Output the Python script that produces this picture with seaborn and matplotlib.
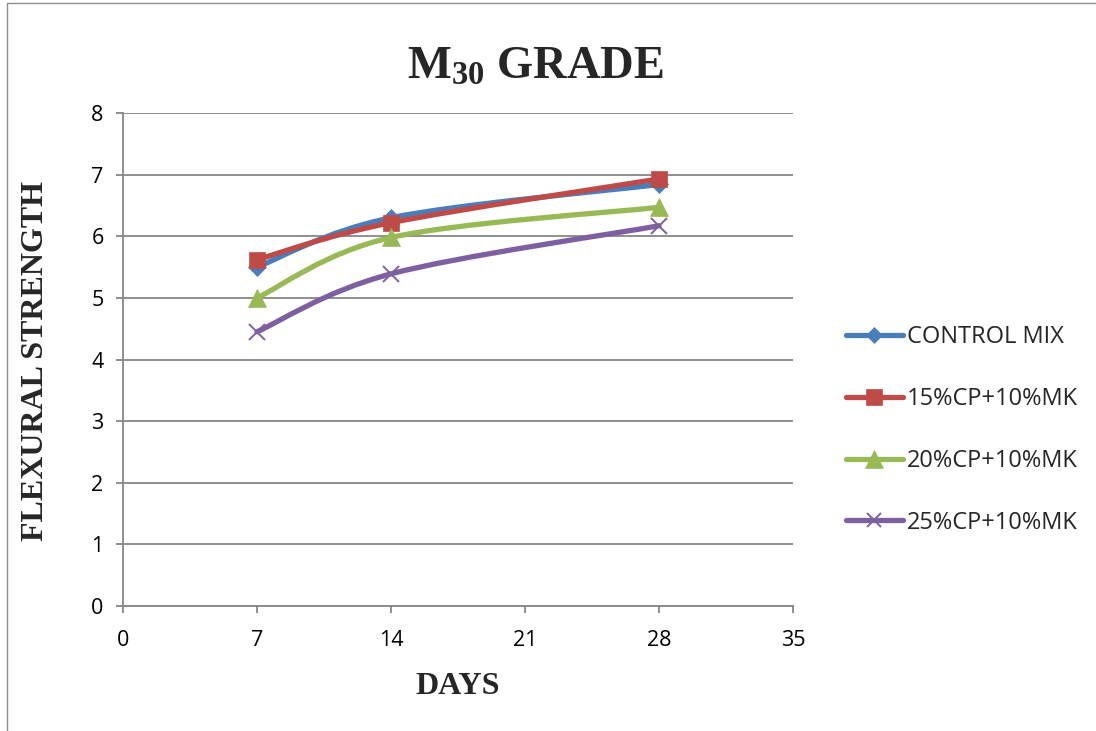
import matplotlib
matplotlib.use("Agg")
import matplotlib.pyplot as plt
from matplotlib.path import Path
from matplotlib.patches import PathPatch, Rectangle
from matplotlib.lines import Line2D
import seaborn as sns
import pandas as pd

# Curing age (days) and flexural strength of each mix
days = [7, 14, 28]
control_mix = [5.50, 6.30, 6.84]
cp15_mk10 = [5.62, 6.22, 6.93]
cp20_mk10 = [5.00, 5.98, 6.47]
cp25_mk10 = [4.45, 5.39, 6.17]

series_names = ["CONTROL MIX", "15%CP+10%MK", "20%CP+10%MK", "25%CP+10%MK"]
series_values = [control_mix, cp15_mk10, cp20_mk10, cp25_mk10]

x_ticks = [0, 7, 14, 21, 28, 35]
y_ticks = [0, 1, 2, 3, 4, 5, 6, 7, 8]

colors = ["#4A7EBB", "#BE4B48", "#98B954", "#7D60A0"]
markers = ["D", "s", "^", "x"]
marker_sizes = [9, 12, 13, 11]

rows = []
for name, vals in zip(series_names, series_values):
    for d, v in zip(days, vals):
        rows.append({"days": d, "strength": v, "mix": name})
df = pd.DataFrame(rows)

sns.set_style("white")
plt.rcParams["font.family"] = ["Open Sans", "DejaVu Sans"]
plt.rcParams["mathtext.fontset"] = "custom"
plt.rcParams["mathtext.rm"] = "Liberation Serif:bold"
plt.rcParams["mathtext.bf"] = "Liberation Serif:bold"
plt.rcParams["mathtext.it"] = "Liberation Serif:bold"

fig = plt.figure(figsize=(10.96, 7.31), dpi=100)
fig.patches.append(Rectangle((7 / 1096, -0.1), 1.2, 1.1 - 3 / 731,
                             transform=fig.transFigure, fill=False,
                             edgecolor="#8c8c8c", linewidth=1.0))
ax = fig.add_axes([123 / 1096, 1 - 606 / 731, 670 / 1096, 493 / 731])


def smooth_path(xs, ys):
    """Cubic Bezier path through the points (Excel-style smoothed line)."""
    pts = list(zip(xs, ys))
    n = len(pts)
    verts = [pts[0]]
    codes = [Path.MOVETO]
    for i in range(n - 1):
        p0 = pts[i - 1] if i > 0 else pts[i]
        p1 = pts[i]
        p2 = pts[i + 1]
        p3 = pts[i + 2] if i + 2 < n else pts[i + 1]
        c1 = (p1[0] + (p2[0] - p0[0]) / 6, p1[1] + (p2[1] - p0[1]) / 6)
        c2 = (p2[0] - (p3[0] - p1[0]) / 6, p2[1] - (p3[1] - p1[1]) / 6)
        verts += [c1, c2, p2]
        codes += [Path.CURVE4] * 3
    return Path(verts, codes)


for i, (name, color, mk, ms) in enumerate(zip(series_names, colors, markers, marker_sizes)):
    sub = df[df["mix"] == name]
    ax.add_patch(PathPatch(smooth_path(sub["days"].tolist(), sub["strength"].tolist()),
                           facecolor="none", edgecolor=color, linewidth=3.8,
                           capstyle="round", joinstyle="round", zorder=3 + 2 * i))
    sns.lineplot(data=sub, x="days", y="strength", ax=ax, linestyle="none",
                 marker=mk, markersize=ms, color=color,
                 markeredgecolor=color, markeredgewidth=1.4 if mk == "x" else 0.5,
                 legend=False, zorder=4 + 2 * i)

ax.set_xlim(0, 35)
ax.set_ylim(0, 8)
ax.set_xticks(x_ticks)
ax.set_yticks(y_ticks)
ax.grid(axis="y", color="#868686", linewidth=1.3)
ax.grid(axis="x", visible=False)
for s in ["top", "right"]:
    ax.spines[s].set_visible(False)
for s in ["left", "bottom"]:
    ax.spines[s].set_color("#868686")
    ax.spines[s].set_linewidth(1.3)
ax.tick_params(axis="both", which="major", direction="out", length=5, width=1.3,
               color="#868686", labelsize=15.5, labelcolor="black")
ax.tick_params(axis="y", left=True, pad=9)
ax.tick_params(axis="x", bottom=True, pad=12)
ax.set_xlabel("")
ax.set_ylabel("")

serif = ["Liberation Serif", "DejaVu Serif"]
fig.text(535 / 1096, 1 - 79 / 731, r"$\mathbf{M_{30}}$ GRADE", ha="center", va="baseline",
         fontsize=33.5, fontweight="bold", family=serif)
fig.text(458 / 1096, 1 - 686 / 731, "DAYS", ha="center", va="center",
         fontsize=23, fontweight="bold", family=serif)
fig.text(36 / 1096, 1 - 361 / 731, "FLEXURAL STRENGTH", ha="center", va="center",
         rotation=90, fontsize=23, fontweight="bold", family=serif)

handles = [Line2D([0], [0], color=c, linewidth=3.8, marker=m, markersize=ms * 0.95,
                  markeredgecolor=c, markeredgewidth=1.4 if m == "x" else 0.5,
                  solid_capstyle="round")
           for c, m, ms in zip(colors, markers, marker_sizes)]
fig.legend(handles, series_names, loc="center left",
           bbox_to_anchor=(846 / 1096, 1 - 430 / 731), frameon=False,
           borderpad=0, borderaxespad=0,
           fontsize=17, handlelength=2.4, handletextpad=0.17, labelspacing=1.6)

fig.savefig("out.png", dpi=100)
